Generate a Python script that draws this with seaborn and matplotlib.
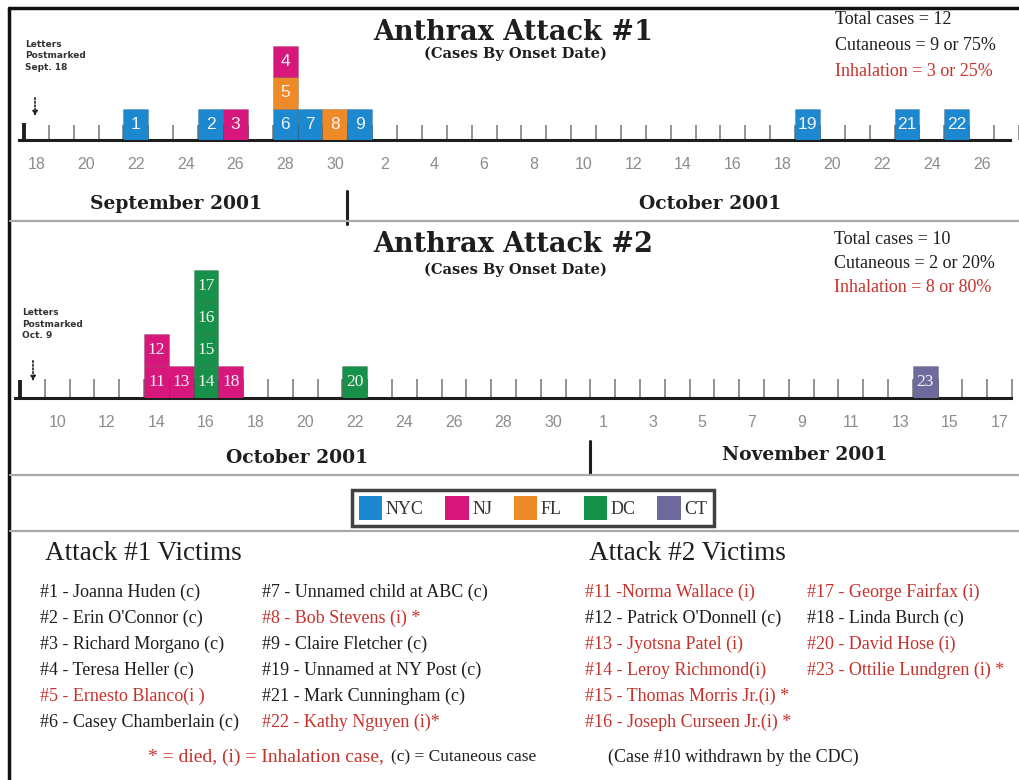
import pandas as pd
import numpy as np
import matplotlib
matplotlib.use("Agg")
import matplotlib.pyplot as plt
import matplotlib.dates as mdates
from matplotlib.lines import Line2D
from matplotlib.patches import Patch
import seaborn as sns

# Attack #1 (order inside a day = stacking order, bottom first)
cases1 = [1, 2, 3, 6, 5, 4, 7, 8, 9, 19, 21, 22]
onset1 = ["2001-09-22", "2001-09-25", "2001-09-26", "2001-09-28", "2001-09-28", "2001-09-28",
          "2001-09-29", "2001-09-30", "2001-10-01", "2001-10-19", "2001-10-23", "2001-10-25"]
state1 = ["NYC", "NYC", "NJ", "NYC", "FL", "NJ", "NYC", "FL", "NYC", "NYC", "NYC", "NYC"]

# Attack #2
cases2 = [11, 12, 13, 14, 15, 16, 17, 18, 20, 23]
onset2 = ["2001-10-14", "2001-10-14", "2001-10-15", "2001-10-16", "2001-10-16", "2001-10-16",
          "2001-10-16", "2001-10-17", "2001-10-22", "2001-11-14"]
state2 = ["NJ", "NJ", "NJ", "DC", "DC", "DC", "DC", "NJ", "DC", "CT"]

states = ["NYC", "NJ", "FL", "DC", "CT"]
state_colors = ["#1b88d0", "#d8177c", "#ee8a28", "#17914a", "#6e6a9e"]

stats1 = ["Total cases = 12", "Cutaneous = 9 or 75%", "Inhalation = 3 or 25%"]
stats2 = ["Total cases = 10", "Cutaneous = 2 or 20%", "Inhalation = 8 or 80%"]

victims1_a = ["#1 - Joanna Huden (c)", "#2 - Erin O'Connor (c)", "#3 - Richard Morgano (c)",
              "#4 - Teresa Heller (c)", "#5 - Ernesto Blanco(i )", "#6 - Casey Chamberlain (c)"]
victims1_b = ["#7 - Unnamed child at ABC (c)", "#8 - Bob Stevens (i) *", "#9 - Claire Fletcher (c)",
              "#19 - Unnamed at NY Post (c)", "#21 - Mark Cunningham (c)", "#22 - Kathy Nguyen (i)*"]
victims2_a = ["#11 -Norma Wallace (i)", "#12 - Patrick O'Donnell (c)", "#13 - Jyotsna Patel (i)",
              "#14 - Leroy Richmond(i)", "#15 - Thomas Morris Jr.(i) *", "#16 - Joseph Curseen Jr.(i) *"]
victims2_b = ["#17 - George Fairfax (i)", "#18 - Linda Burch (c)", "#20 - David Hose (i)",
              "#23 - Ottilie Lundgren (i) *"]

sns.set_theme(style="white")
plt.rcParams["font.family"] = ["Liberation Serif", "DejaVu Serif"]

W, H = 1019, 780
fig = plt.figure(figsize=(W / 100, H / 100), dpi=100)
pal = dict(zip(states, state_colors))
RED = "#c8322c"
INK = "#1e1e1e"


def T(x, y, s, **kw):
    kw.setdefault("va", "center")
    kw.setdefault("color", INK)
    return fig.text(x / W, 1 - y / H, s, **kw)


def hline(y, x0=10, x1=W, **kw):
    fig.add_artist(Line2D([x0 / W, x1 / W], [1 - y / H, 1 - y / H], **kw))


def timeline(cases, onset, state, start, end, first_label, last_label, px0, pxday, ytop,
             ybase, boxh, ticklen, numfont, sep_date, sep_y):
    df = pd.DataFrame({"case": cases, "date": pd.to_datetime(onset), "state": state})
    df["level"] = df.groupby("date").cumcount()
    df["x"] = mdates.date2num(df["date"]) + 0.5
    d0 = mdates.date2num(pd.Timestamp(start))
    ax = fig.add_axes([0, 1 - ybase / H, 1, (ybase - ytop) / H])
    ax.set_xlim(d0 - px0 / pxday, d0 + (W - px0) / pxday)
    ax.set_ylim(0, (ybase - ytop) / boxh)
    ax.patch.set_alpha(0)
    for side in ["top", "left", "right"]:
        ax.spines[side].set_visible(False)
    ax.spines["bottom"].set_linewidth(2.2)
    ax.spines["bottom"].set_color(INK)
    ax.spines["bottom"].set_bounds(d0 - 0.2, d0 + (W - 8 - px0) / pxday)
    ax.set_yticks([])

    # day boundaries as minor ticks, labels every other day in cell centres
    bounds = mdates.date2num(pd.date_range(start, end, freq="D"))
    ax.set_xticks(bounds[1:], minor=True)
    lab = pd.date_range(first_label, last_label, freq="2D")
    ax.set_xticks(mdates.date2num(lab) + 0.5)
    ax.set_xticklabels([str(d.day) for d in lab])
    ax.tick_params(axis="x", which="minor", direction="in", length=ticklen, width=1.3,
                   color="#8a8a8a", bottom=True)
    ax.tick_params(axis="x", which="major", length=0, pad=12, labelsize=11.5,
                   labelcolor="#8c8c8c")
    for t in ax.get_xticklabels():
        t.set_family(["Liberation Sans", "DejaVu Sans"])
    ax.vlines(d0, 0, 0.55, color=INK, lw=2.8)

    ax.bar(df["x"], 1, bottom=df["level"], width=1.0,
           color=[pal[s] for s in df["state"]], edgecolor="#00000030", lw=0.6, zorder=3)
    for _, r in df.iterrows():
        ax.text(r["x"], r["level"] + 0.5, str(r["case"]), ha="center", va="center",
                color="#f4f4f4", fontsize=12.5, family=numfont, zorder=4)

    s = mdates.date2num(pd.Timestamp(sep_date))
    ax.plot([s, s], [-(sep_y[0] - ybase) / boxh, -(sep_y[1] - ybase) / boxh],
            color=INK, lw=2.2, clip_on=False)
    return ax


ax1 = timeline(cases1, onset1, state1, "2001-09-18", "2001-10-28", "2001-09-18", "2001-10-26",
               24, 24.9, 0, 140, 31.5, 11, ["Liberation Sans", "DejaVu Sans"],
               "2001-10-01", (191, 224))
ax2 = timeline(cases2, onset2, state2, "2001-10-09", "2001-11-18", "2001-10-10", "2001-11-17",
               20, 24.8, 225, 398, 32, 14, ["Liberation Serif", "DejaVu Serif"],
               "2001-11-01", (441, 474))

# frame and separators
fig.add_artist(Line2D([9 / W, 9 / W], [0, 1 - 8 / H], color="#111", lw=2.5))
fig.add_artist(Line2D([9 / W, 1], [1 - 8 / H, 1 - 8 / H], color="#111", lw=2.5))
hline(221, color="#a8a8a8", lw=1.6)
hline(475, color="#a8a8a8", lw=1.6)
hline(531, color="#a8a8a8", lw=1.6)

# titles
bold = dict(family=["DejaVu Serif"], weight="bold", ha="center")
T(513, 32, "Anthrax Attack #1", fontsize=19.5, **bold)
T(515, 54, "(Cases By Onset Date)", fontsize=10.5, **bold)
T(513, 245, "Anthrax Attack #2", fontsize=19.5, **bold)
T(515, 270, "(Cases By Onset Date)", fontsize=10.5, **bold)
T(176, 204, "September 2001", fontsize=13.5, **bold)
T(710, 204, "October 2001", fontsize=13.5, **bold)
T(297, 458, "October 2001", fontsize=13.5, **bold)
T(805, 455, "November 2001", fontsize=13.5, **bold)

for i, s in enumerate(stats1):
    T(835, 20 + 26 * i, s, fontsize=13, color=RED if i == 2 else INK)
for i, s in enumerate(stats2):
    T(834, 240 + 24 * i, s, fontsize=13, color=RED if i == 2 else INK)

small = dict(family=["DejaVu Sans"], weight="bold", fontsize=6.5, color="#333")
T(25, 56, "Letters\nPostmarked\nSept. 18", linespacing=1.35, **small)
T(22, 324, "Letters\nPostmarked\nOct. 9", linespacing=1.35, **small)
for x, y0, y1 in [(35, 95, 119), (33, 358, 384)]:
    fig.add_artist(plt.Annotation("", xy=(x / W, 1 - y1 / H), xytext=(x / W, 1 - y0 / H),
                                  xycoords="figure fraction",
                                  arrowprops=dict(arrowstyle="-|>", ls=(0, (1, 1.2)),
                                                  color="#222", lw=1.2, mutation_scale=7)))

# legend
handles = [Patch(facecolor=c, edgecolor="none") for c in state_colors]
leg = fig.legend(handles, states, loc="center", bbox_to_anchor=(533 / W, 1 - 508 / H),
                 ncol=5, frameon=True, fancybox=False, fontsize=13, handlelength=1.3,
                 handleheight=1.6, handletextpad=0.2, columnspacing=1.2, borderpad=0.35,
                 borderaxespad=0)
leg.get_frame().set_edgecolor("#111")
leg.get_frame().set_linewidth(2.5)
for t in leg.get_texts():
    t.set_color("#333")

# victims lists
T(45, 553, "Attack #1 Victims", fontsize=19.5)
T(589, 553, "Attack #2 Victims", fontsize=19.5)
for x, col in [(40, victims1_a), (262, victims1_b), (585, victims2_a), (807, victims2_b)]:
    for i, s in enumerate(col):
        T(x, 592 + 26 * i, s, fontsize=13, color=RED if "(i" in s else INK)
T(148, 757, "* = died, (i) = Inhalation case,", fontsize=14, color=RED)
T(391, 757, "(c) = Cutaneous case", fontsize=12.5)
T(608, 757, "(Case #10 withdrawn by the CDC)", fontsize=13)

fig.savefig("out.png", dpi=100)
